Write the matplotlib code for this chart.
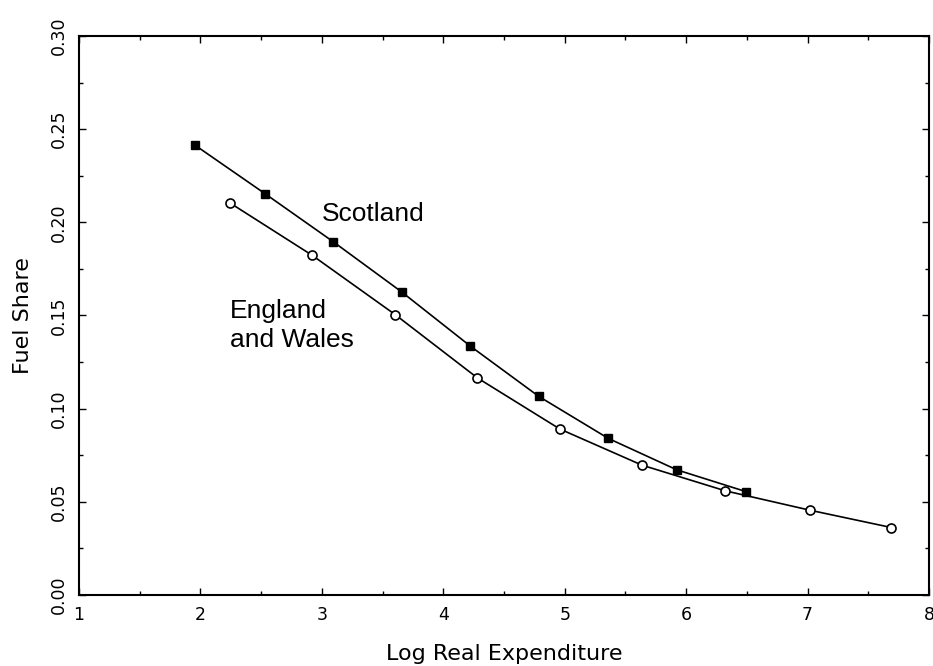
import numpy as np
import matplotlib
matplotlib.use("Agg")
import matplotlib.pyplot as plt
from matplotlib.ticker import MultipleLocator, FormatStrFormatter

# fuel share against log real expenditure, by region
scot_x = [1.955, 2.531, 3.093, 3.656, 4.224, 4.786, 5.360, 5.922, 6.492]
scot_y = [0.2414, 0.2154, 0.1896, 0.1627, 0.1335, 0.1066, 0.0840, 0.0672, 0.0555]

eng_x = [2.243, 2.920, 3.603, 4.281, 4.959, 5.636, 6.323, 7.020, 7.691]
eng_y = [0.2104, 0.1823, 0.1505, 0.1165, 0.0891, 0.0697, 0.0559, 0.0455, 0.0362]

fig = plt.figure(figsize=(9.33, 6.66), dpi=100)
ax = fig.add_axes([0.0847, 0.1066, 0.9110, 0.8394])

ax.plot(scot_x, scot_y, color='k', linewidth=1.2, marker='s', markersize=5.5,
        markerfacecolor='k', markeredgecolor='k')
ax.plot(eng_x, eng_y, color='k', linewidth=1.2, marker='o', markersize=6.5,
        markerfacecolor='white', markeredgecolor='k', markeredgewidth=1.2)

ax.text(3.0, 0.2005, 'Scotland', fontsize=19, family='Liberation Sans')
ax.text(2.243, 0.1586, 'England\nand Wales', fontsize=19, family='Liberation Sans',
        va='top', linespacing=1.25)

ax.set_xlim(1, 8)
ax.set_ylim(0, 0.30)
ax.xaxis.set_major_locator(MultipleLocator(1))
ax.xaxis.set_minor_locator(MultipleLocator(0.5))
ax.yaxis.set_major_locator(MultipleLocator(0.05))
ax.yaxis.set_minor_locator(MultipleLocator(0.025))
ax.yaxis.set_major_formatter(FormatStrFormatter('%.2f'))

ax.tick_params(which='both', direction='in', top=True, right=True, width=1.0)
ax.tick_params(which='major', length=5, labelsize=12.5, pad=8)
ax.tick_params(which='minor', length=3)
for lab in ax.get_yticklabels():
    lab.set_rotation(90)
    lab.set_va('center')

for sp in ax.spines.values():
    sp.set_linewidth(1.5)

ax.set_xlabel('Log Real Expenditure', fontsize=16, labelpad=14)
ax.set_ylabel('Fuel Share', fontsize=16, labelpad=12)

fig.savefig('out.png', dpi=100)
